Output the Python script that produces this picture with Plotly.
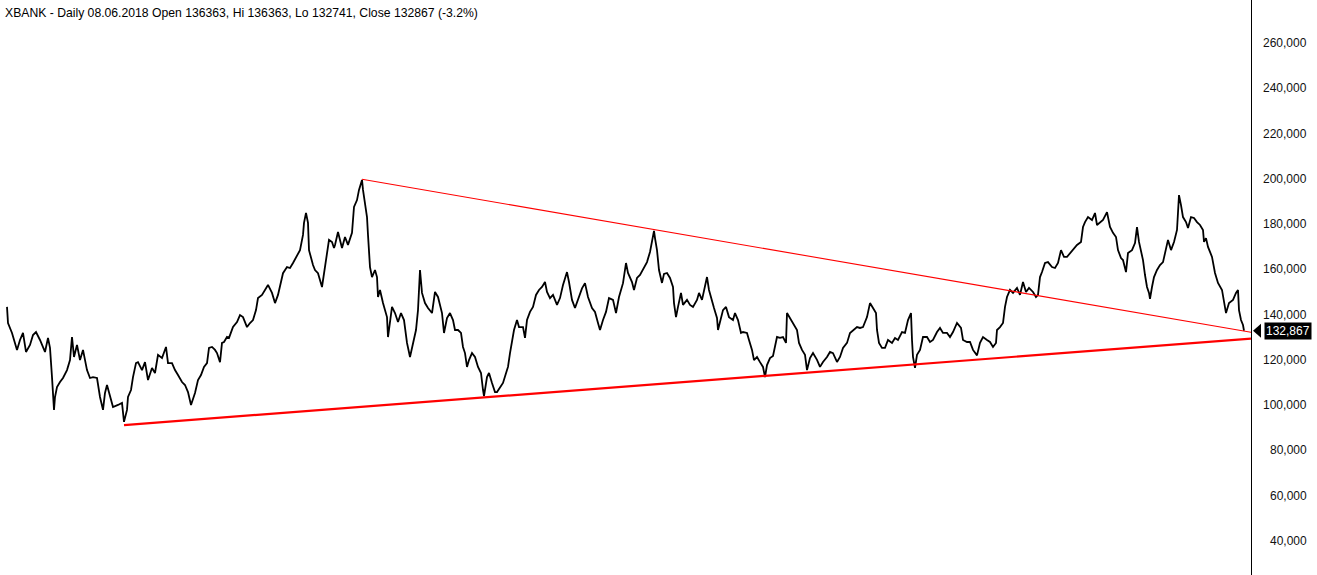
import plotly.graph_objects as go

# ---- data ----
bar = [7, 8, 12, 15, 17, 20, 23, 26, 30, 33, 36, 40, 45, 48, 50, 52, 54, 55, 57, 60, 63, 67, 70, 72, 74, 77, 80, 83, 87, 90,
       93, 97, 100, 103, 105, 107, 110, 113, 118, 122, 124, 127, 128, 131, 133, 136, 138, 142, 145, 148, 152, 155, 158, 162, 166, 168, 172, 175, 178, 182,
       185, 188, 191, 195, 198, 201, 204, 207, 209, 212, 215, 217, 220, 222, 224, 227, 229, 233, 237, 240, 243, 247, 250, 253, 256, 258, 262, 265, 268, 272,
       275, 278, 281, 283, 287, 290, 293, 297, 300, 303, 304, 306, 308, 309, 311, 313, 315, 318, 322, 324, 327, 329, 332, 334, 335, 338, 342, 345, 348, 352,
       354, 357, 359, 362, 363, 365, 367, 368, 369, 370, 372, 375, 377, 378, 380, 383, 387, 388, 392, 395, 398, 401, 404, 407, 410, 413, 416, 418, 420, 422,
       425, 428, 432, 435, 438, 442, 444, 447, 450, 453, 455, 458, 461, 463, 465, 467, 469, 472, 475, 478, 481, 483, 484, 487, 489, 492, 495, 497, 501, 503,
       507, 508, 510, 512, 514, 517, 519, 523, 525, 527, 530, 533, 536, 539, 542, 545, 547, 550, 553, 557, 560, 563, 567, 569, 572, 575, 578, 582, 585, 588,
       592, 595, 598, 600, 603, 606, 609, 613, 616, 619, 623, 626, 628, 632, 634, 637, 640, 643, 647, 650, 653, 654, 655, 657, 659, 662, 664, 667, 670, 673,
       674, 676, 678, 681, 683, 687, 690, 693, 697, 699, 702, 705, 707, 709, 712, 714, 717, 718, 720, 723, 726, 729, 733, 735, 738, 741, 743, 747, 749, 752,
       754, 757, 760, 763, 765, 767, 770, 773, 777, 780, 783, 786, 787, 790, 793, 797, 799, 802, 805, 807, 810, 813, 817, 820, 823, 827, 830, 833, 837, 840,
       843, 847, 850, 853, 857, 860, 863, 867, 870, 873, 876, 877, 879, 882, 885, 888, 892, 895, 898, 902, 905, 908, 911, 912, 913, 915, 917, 920, 923, 927,
       930, 933, 937, 940, 943, 947, 950, 953, 957, 961, 963, 967, 970, 973, 977, 980, 983, 987, 990, 993, 996, 997, 1000, 1003, 1005, 1007, 1010, 1013, 1017, 1020,
       1023, 1026, 1029, 1033, 1036, 1038, 1040, 1042, 1045, 1048, 1052, 1055, 1058, 1061, 1064, 1067, 1071, 1074, 1077, 1081, 1083, 1085, 1088, 1092, 1095, 1097, 1100, 1103, 1107, 1110,
       1113, 1116, 1118, 1121, 1123, 1126, 1128, 1132, 1135, 1137, 1139, 1143, 1145, 1147, 1149, 1150, 1152, 1154, 1157, 1160, 1163, 1166, 1168, 1171, 1174, 1177, 1178, 1179, 1181, 1183,
       1186, 1188, 1191, 1194, 1197, 1200, 1203, 1204, 1206, 1208, 1210, 1212, 1215, 1218, 1222, 1224, 1226, 1229, 1233, 1236, 1238, 1239, 1241, 1243, 1244]

close = [143400, 136300, 131900, 127500, 124400, 128800, 131900, 123500, 126600, 131000, 132300, 128800, 123500, 129700, 125300, 112400, 97900, 103600, 108000, 110200,
         112000, 115500, 119900, 130100, 121300, 126600, 119900, 124400, 115500, 112000,
         112400, 112000, 103600, 97900, 105400, 108900, 103600, 99200, 100100, 101000, 92600, 97900, 103600, 106700, 112400, 118600, 119000, 115500, 119000, 111100,
         116400, 114200, 122200, 120800, 125700, 118600, 118600, 115500, 113300, 110200,
         108900, 105800, 100100, 105400, 111100, 113300, 116900, 118600, 125300, 125700, 124400, 123000, 119000, 127500, 127900, 130100, 129700, 134500, 136700, 139800,
         138900, 134500, 136300, 137600, 142000, 147300, 148700, 150900, 153100, 149600,
         145100, 148700, 153900, 158300, 161000, 160600, 162800, 166300, 168500, 175200, 180500, 184900, 180500, 168500, 165000, 161900, 159700, 158300, 152200, 158400,
         167200, 173000, 172100, 169400, 170800, 176500, 169400, 174300, 170800, 176100,
         187600, 190600, 195100, 199500, 195100, 189800, 183100, 175200, 167200, 161000, 156600, 159700, 156600, 147800, 150900, 145100, 138900, 130100, 143400, 140700,
         136700, 140700, 137600, 127500, 121300, 127500, 133200, 142000, 159700, 149600,
         145100, 142900, 140700, 150000, 147800, 140700, 131900, 138500, 140700, 137600, 133200, 133200, 131900, 125700, 123000, 116900, 119900, 123000, 121300, 116900,
         114200, 106700, 104000, 112400, 114200, 109800, 105800, 105800, 108900, 109800,
         115500, 116900, 123000, 128800, 133200, 137600, 134500, 134500, 129700, 137600, 141200, 143400, 148700, 150900, 152200, 154400, 150000, 147300, 148700, 144300,
         147300, 153100, 158800, 154400, 146500, 142900, 146500, 151600, 153900, 147800,
         142900, 141200, 136300, 133200, 137600, 141200, 147300, 146500, 140700, 147800, 153900, 162800, 158400, 154400, 150900, 156200, 157500, 159700, 163200, 167700,
         175200, 177000, 173800, 168500, 159700, 154000, 158000, 158400, 156200, 152200,
         145100, 138900, 143400, 149600, 144300, 146500, 144300, 143400, 146500, 149600, 146500, 152200, 156600, 150900, 145600, 142900, 138500, 133200, 136700, 142000,
         143400, 138900, 137600, 140700, 137600, 131900, 132300, 131900, 128800, 124400,
         119900, 121300, 119000, 116900, 112400, 117700, 120800, 121700, 130100, 129700, 130100, 127500, 140700, 138500, 136300, 133200, 127500, 124400, 122200, 115500,
         120800, 123000, 120000, 116900, 119100, 121300, 123500, 123000, 119100, 121300,
         125300, 127500, 131900, 133200, 134500, 134100, 134500, 138900, 145100, 142900, 140700, 133200, 127500, 125300, 125300, 128800, 127500, 129700, 128800, 132300,
         131900, 137600, 140700, 128800, 121300, 116500, 122200, 124400, 130100, 130100,
         127900, 128800, 132300, 134100, 131900, 131900, 130100, 132300, 136300, 134100, 128800, 127900, 127900, 124400, 122000, 127500, 130100, 128800, 127900, 125700,
         127500, 133200, 134500, 136300, 143400, 147800, 150900, 149600, 151800, 148700,
         154400, 150000, 151800, 150000, 147800, 148700, 156600, 158800, 162800, 163200, 161000, 160600, 162800, 168500, 165500, 165500, 167700, 169400, 170800, 172100,
         178700, 180900, 183100, 181800, 184900, 179600, 180500, 181800, 185300, 178700,
         176100, 174300, 168500, 165000, 164100, 158800, 167200, 168500, 171600, 178700, 172100, 164100, 157500, 152200, 149600, 147000, 152200, 156600, 159700, 161900,
         163200, 169900, 173000, 168500, 172100, 177400, 186200, 192800, 188400, 183100,
         180900, 178300, 183100, 182700, 180900, 179600, 177400, 172100, 173800, 169900, 167700, 165500, 158400, 154000, 150900, 145100, 140700, 145100, 146500, 149600,
         150900, 142000, 137600, 135400, 132867]

# trend lines (bar, value)
upper_bar = [362, 1251]
upper_val = [199800, 132200]
lower_bar = [124, 1251]
lower_val = [91200, 129400]

y_ticks = [40000, 60000, 80000, 100000, 120000, 140000, 160000, 180000, 200000, 220000, 240000, 260000]

title_text = "XBANK - Daily 08.06.2018 Open 136363, Hi 136363, Lo 132741, Close 132867 (-3.2%)"

FONT = "Liberation Sans, Arial, sans-serif"

fig = go.Figure()
fig.add_trace(go.Scatter(x=bar, y=close, mode="lines",
                         line=dict(color="black", width=1.8), hoverinfo="skip"))
fig.add_trace(go.Scatter(x=upper_bar, y=upper_val, mode="lines",
                         line=dict(color="#ff0000", width=1.1), hoverinfo="skip"))
fig.add_trace(go.Scatter(x=lower_bar, y=lower_val, mode="lines",
                         line=dict(color="#ff0000", width=2.2), hoverinfo="skip"))

fig.update_layout(
    width=1317, height=575,
    margin=dict(l=0, r=66, t=0, b=0),
    plot_bgcolor="white", paper_bgcolor="white",
    showlegend=False,
    xaxis=dict(range=[0, 1251], visible=False, fixedrange=True),
    yaxis=dict(range=[24962, 278997], side="right", showgrid=False, zeroline=False,
               showline=True, linecolor="black", linewidth=1,
               showticklabels=False, ticks="", fixedrange=True),
    font=dict(family=FONT, size=12, color="black"),
)

# right-aligned tick labels
for v in y_ticks:
    fig.add_annotation(x=1, xref="paper", y=v, yref="y", text=f"{v:,}",
                       showarrow=False, xanchor="right", yanchor="middle",
                       xshift=58, font=dict(family=FONT, size=12, color="#111"))

# title
fig.add_annotation(x=0, xref="paper", y=1, yref="paper", text=title_text,
                   showarrow=False, xanchor="left", yanchor="top",
                   xshift=3, yshift=-4, font=dict(family=FONT, size=12.2, color="black"))

# last price label with pointer
last = close[-1]
fig.add_annotation(x=1, xref="paper", y=last, yref="y", text=f"{last:,}",
                   showarrow=False, xanchor="right", yanchor="middle",
                   xshift=61, bgcolor="black", borderpad=1,
                   font=dict(family=FONT, size=12, color="white"))
fig.add_shape(type="path", xref="paper", yref="y", xsizemode="pixel", ysizemode="pixel",
              xanchor=1, yanchor=last, path="M 2 0 L 10 7 L 10 -7 Z",
              fillcolor="black", line=dict(width=0))

fig.write_html("out.html", config={"displayModeBar": False, "staticPlot": True},
               post_script="document.body.style.margin='0';document.body.style.overflow='hidden';")
